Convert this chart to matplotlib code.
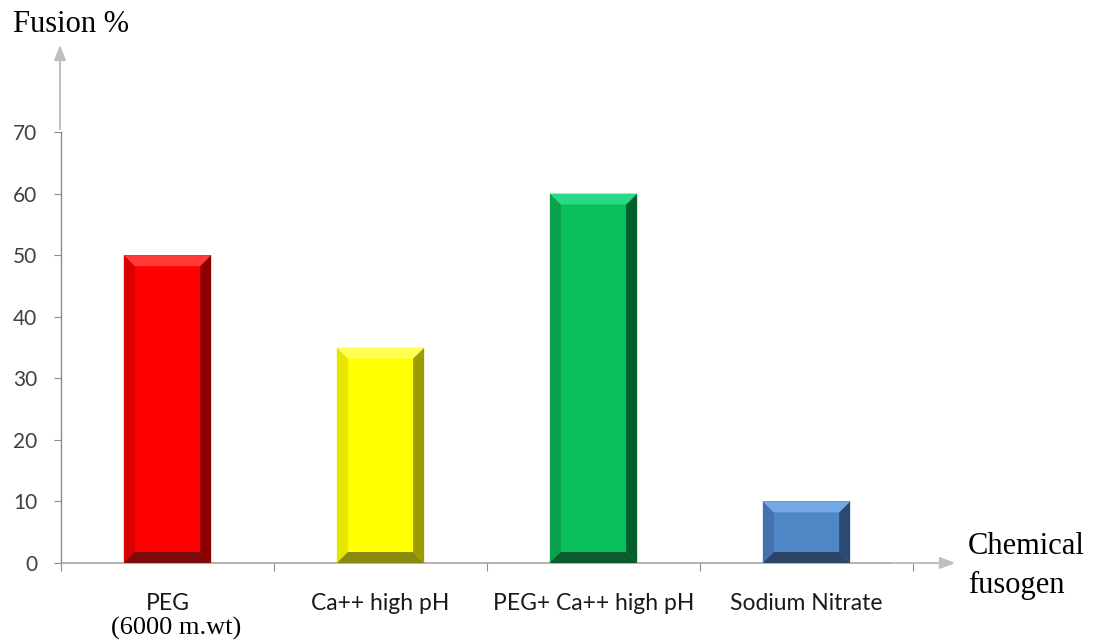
import matplotlib
matplotlib.use("Agg")
import matplotlib.pyplot as plt
import numpy as np

# data
categories = ["PEG", "Ca++ high pH", "PEG+ Ca++ high pH", "Sodium Nitrate"]
fusion_pct = [50, 35, 60, 10]
y_ticks = [0, 10, 20, 30, 40, 50, 60, 70]

# face, lighter top, left, right, bottom bevel colours
bar_colors = [
    ("#FF0000", "#FF3838", "#D80000", "#8A0000", "#7C0A0A"),
    ("#FFFF00", "#FFFF55", "#E6E600", "#9C9C00", "#8A8A10"),
    ("#09BF59", "#2AD985", "#07A24B", "#045E2E", "#0C5A30"),
    ("#4F86C6", "#74A8E4", "#4273AE", "#2A4A72", "#2C4566"),
]

W, H = 1098, 641
fig = plt.figure(figsize=(W / 100, H / 100), dpi=100)
ax = fig.add_axes([61 / W, 78 / H, 852 / W, 431 / H])

x = np.arange(len(categories))
bar_w = 0.41
ax.bar(x, fusion_pct, width=bar_w, color=[c[0] for c in bar_colors],
       edgecolor="none", zorder=2)

ax.set_xlim(-0.5, len(categories) - 0.5)
ax.set_ylim(0, 70)

# bevel edges, about 11 px wide, converted to data units
fig.canvas.draw()
p0 = ax.transData.transform((0, 0))
p1 = ax.transData.transform((1, 1))
bev = 11
dx = bev / (p1[0] - p0[0])
dy = bev / (p1[1] - p0[1])
for xi, h, cols in zip(x, fusion_pct, bar_colors):
    x0, x1 = xi - bar_w / 2, xi + bar_w / 2
    face, top, left, right, bottom = cols
    ax.fill([x0, x0 + dx, x0 + dx, x0], [0, dy, h - dy, h], color=left, lw=0, zorder=3)
    ax.fill([x1, x1 - dx, x1 - dx, x1], [0, dy, h - dy, h], color=right, lw=0, zorder=3)
    ax.fill([x0, x1, x1 - dx, x0 + dx], [h, h, h - dy, h - dy], color=top, lw=0, zorder=3)
    ax.fill([x0, x1, x1 - dx, x0 + dx], [0, 0, dy, dy], color=bottom, lw=0, zorder=3)

# axes styling
for s in ["top", "right"]:
    ax.spines[s].set_visible(False)
ax.spines["left"].set_color("#8C8C8C")
ax.spines["bottom"].set_color("#A6A6A6")
ax.spines["left"].set_linewidth(1.0)
ax.spines["bottom"].set_linewidth(1.2)
ax.spines["bottom"].set_bounds(-0.5, 3.4)

ax.set_yticks(y_ticks)
ax.set_yticklabels([str(v) for v in y_ticks], fontsize=15, family="Lato", color="#404040")
ax.tick_params(axis="y", length=5, color="#8C8C8C", pad=12)

ax.set_xticks(np.arange(len(categories) + 1) - 0.5)
ax.set_xticklabels([])
ax.tick_params(axis="x", length=6, color="#8C8C8C")
for xi, lab in zip(x, categories):
    ax.text(xi, -0.095, lab, transform=ax.get_xaxis_transform(), ha="center",
            va="center", fontsize=16.5, family="Lato", color="#1A1A1A")

# extra annotations drawn over the chart
arrow_kw = dict(arrowstyle="-|>,head_width=0.35,head_length=0.9", color="#BFBFBF", lw=1.5)
ax.annotate("", xy=(60 / W, 1 - 42 / H), xytext=(60 / W, 1 - 132 / H),
            xycoords="figure fraction", textcoords="figure fraction", arrowprops=arrow_kw)
ax.annotate("", xy=(958 / W, 1 - 563 / H), xytext=(890 / W, 1 - 563 / H),
            xycoords="figure fraction", textcoords="figure fraction", arrowprops=arrow_kw)

serif = "Liberation Serif"
fig.text(13 / W, 1 - 24 / H, "Fusion %", fontsize=22, family=serif, va="center", ha="left")
fig.text(968 / W, 1 - 547 / H, "Chemical", fontsize=22, family=serif, va="center", ha="left")
fig.text(968 / W, 1 - 585 / H, "fusogen", fontsize=22, family=serif, va="center", ha="left")
fig.text(176 / W, 1 - 628 / H, "(6000 m.wt)", fontsize=19, family=serif, va="center", ha="center")

fig.savefig("out.png", dpi=100)
